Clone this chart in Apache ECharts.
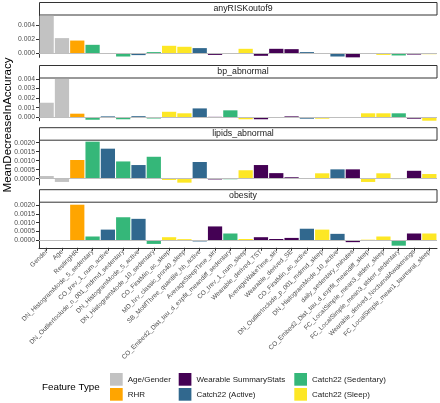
<!DOCTYPE html>
<html>
<head>
<meta charset="utf-8">
<script src="https://cdn.jsdelivr.net/npm/echarts@6/dist/echarts.min.js"></script>
<style>
html,body{margin:0;padding:0;background:#fff;}
#c{width:440px;height:403px;}
</style>
</head>
<body>
<div id="c"></div>
<script>
const categories = ['Gender','Age','RestingHR','DN_HistogramMode_5_sedentary','CO_trev_1_num_active','DN_OutlierInclude_n_001_mdrmd_sedentary','DN_HistogramMode_5_active','DN_HistogramMode_10_sedentary','CO_FirstMin_ac_sleep','MD_hrv_classic_pnn40_sleep','SB_MotifThree_quantile_hh_active','AverageSleepTime_sin','CO_Embed2_Dist_tau_d_expfit_meandiff_sedentary','CO_trev_1_num_sleep','Wearable_derived_TST','AverageWakeTime_sin','Wearable_derived_SE','CO_FirstMin_ac_active','DN_OutlierInclude_p_001_mdrmd_sleep','DN_HistogramMode_10_active','daily_sedentary_minutes','CO_Embed2_Dist_tau_d_expfit_meandiff_sleep','FC_LocalSimple_mean3_stderr_sleep','FC_LocalSimple_mean3_stderr_sedentary','Wearable_derived_NocturnalAwakenings','FC_LocalSimple_mean1_tauresrat_sleep'];

const featureTypes = ['Age/Gender','RHR','Wearable SummaryStats','Catch22 (Active)','Catch22 (Sedentary)','Catch22 (Sleep)'];
const typeColors = ['#C2C2C2','#FFA500','#440154','#31688E','#35B779','#FDE725'];

const categoryTypes = ['Age/Gender','Age/Gender','RHR','Catch22 (Sedentary)','Catch22 (Active)','Catch22 (Sedentary)','Catch22 (Active)','Catch22 (Sedentary)','Catch22 (Sleep)','Catch22 (Sleep)','Catch22 (Active)','Wearable SummaryStats','Catch22 (Sedentary)','Catch22 (Sleep)','Wearable SummaryStats','Wearable SummaryStats','Wearable SummaryStats','Catch22 (Active)','Catch22 (Sleep)','Catch22 (Active)','Wearable SummaryStats','Catch22 (Sleep)','Catch22 (Sleep)','Catch22 (Sedentary)','Wearable SummaryStats','Catch22 (Sleep)'];

const panelNames = ['anyRISKoutof9','bp_abnormal','lipids_abnormal','obesity'];

const anyRISKoutof9 = [0.00539,0.00220,0.00185,0.00124,0.00003,-0.00043,-0.00023,0.00020,0.00110,0.00096,0.00077,-0.00020,0.00002,0.00067,-0.00033,0.00067,0.00062,0.00020,-0.00005,-0.00043,-0.00057,0.00001,-0.00020,-0.00028,-0.00015,-0.00010];
const bp_abnormal = [0.00152,0.00400,0.00038,-0.00025,0.00010,-0.00020,0.00012,-0.00012,0.00058,0.00042,0.00093,0.00005,0.00073,-0.00020,-0.00020,-0.00007,0.00010,-0.00014,-0.00014,0.00001,0.00001,0.00042,0.00042,0.00042,-0.00014,-0.00035];
const lipids_abnormal = [0.00015,-0.00018,0.00104,0.00206,0.00167,0.00096,0.00076,0.00122,-0.00007,-0.00022,0.00093,-0.00004,-0.00003,0.00047,0.00076,0.00031,0.00008,0.00002,0.00030,0.00052,0.00052,-0.00018,0.00030,-0.00002,0.00044,0.00026];
const obesity = [0,0,0.00202,0.00022,0.00061,0.00131,0.00122,-0.00020,0.00018,0.00007,-0.00006,0.00079,0.00039,0.00008,0.00018,0.00008,0.00014,0.00066,0.00061,0.00037,-0.00010,0.00004,0.00022,-0.00030,0.00039,0.00039];

const yTicks1 = [0, 0.002, 0.004];
const yTicks2 = [0, 0.001, 0.002, 0.003, 0.004];
const yTicks3 = [0, 0.0005, 0.0010, 0.0015, 0.0020];
const yTicks4 = [0, 0.0005, 0.0010, 0.0015, 0.0020];

const panelValues = [anyRISKoutof9, bp_abnormal, lipids_abnormal, obesity];
const panelTicks = [yTicks1, yTicks2, yTicks3, yTicks4];
const panelDecimals = [3, 3, 4, 4];

// layout
const plotLeft = 39, plotRight = 437;
const gridTops = [15, 77, 139.5, 201];
const gridHeights = [42.35, 43.7, 45.5, 46.8];
const yMins = [-0.00055, -0.00035, -0.00035, -0.00042];
const yMaxs = [0.0055, 0.0042, 0.00218, 0.00223];
const stripTops = [2, 65, 127.2, 189.2];
const stripH = 12.5;

const grids = [], xAxes = [], yAxes = [], series = [], graphics = [];
for (let p = 0; p < 4; p++) {
  grids.push({left: plotLeft, top: gridTops[p], width: plotRight - plotLeft, height: gridHeights[p]});
  const last = p === 3;
  xAxes.push({
    type: 'category', gridIndex: p, data: categories, boundaryGap: true,
    axisLine: {show: last, onZero: false, lineStyle: {color: '#333', width: 1}},
    axisTick: {show: last, alignWithLabel: true, length: 3, lineStyle: {color: '#333'}},
    axisLabel: {show: last, rotate: 45, interval: 0, fontSize: 6.5, color: '#4D4D4D', margin: 3, fontFamily: 'Liberation Sans, Arial, sans-serif'},
    splitLine: {show: false}
  });
  const dec = panelDecimals[p];
  yAxes.push({
    type: 'value', gridIndex: p, min: yMins[p], max: yMaxs[p],
    axisLine: {show: true, lineStyle: {color: '#333', width: 1}},
    axisTick: {show: true, length: 3, lineStyle: {color: '#333'}, customValues: panelTicks[p]},
    axisLabel: {fontSize: 6.8, color: '#4D4D4D', margin: 4, customValues: panelTicks[p],
      fontFamily: 'Liberation Sans, Arial, sans-serif',
      formatter: v => Number(v).toFixed(dec)},
    splitLine: {show: false}
  });
  featureTypes.forEach((t, ti) => {
    const s = {
      type: 'bar', name: t, xAxisIndex: p, yAxisIndex: p,
      data: panelValues[p].map((v, i) => categoryTypes[i] === t ? v : null),
      itemStyle: {color: typeColors[ti]},
      barGap: '-100%', barCategoryGap: '7%',
      silent: true, animation: false
    };
    if (ti === 0) {
      s.markLine = {silent: true, symbol: 'none', label: {show: false},
        lineStyle: {color: '#BEBEBE', width: 1, type: 'solid'},
        data: [{yAxis: 0}], animation: false};
    }
    series.push(s);
  });
  graphics.push({
    type: 'rect', silent: true,
    shape: {x: plotLeft + 0.5, y: stripTops[p] + 0.5, width: plotRight - plotLeft - 0.5, height: stripH},
    style: {fill: '#fff', stroke: '#333', lineWidth: 1}
  });
  graphics.push({
    type: 'text', silent: true, x: 243, y: stripTops[p] + 0.5 + stripH / 2,
    style: {text: panelNames[p], fill: '#1A1A1A', fontSize: 8.8, align: 'center', verticalAlign: 'middle',
      fontFamily: 'Liberation Sans, Arial, sans-serif'}
  });
}
graphics.push({
  type: 'text', silent: true, x: 7.5, y: 125, rotation: Math.PI / 2,
  style: {text: 'MeanDecreaseInAccuracy', fill: '#000', fontSize: 11.5, align: 'center', verticalAlign: 'middle',
    fontFamily: 'Liberation Sans, Arial, sans-serif'}
});
graphics.push({
  type: 'text', silent: true, x: 42, y: 387.5,
  style: {text: 'Feature Type', fill: '#000', fontSize: 9.8, align: 'left', verticalAlign: 'middle',
    fontFamily: 'Liberation Sans, Arial, sans-serif'}
});

const legendCols = [[featureTypes[0], featureTypes[1]], [featureTypes[2], featureTypes[3]], [featureTypes[4], featureTypes[5]]];
const legendLefts = [110, 178.7, 294.3];
const legends = legendCols.map((d, i) => ({
  data: d.map(n => ({name: n, icon: 'rect'})), orient: 'vertical', left: legendLefts[i], top: 373,
  itemWidth: 12.7, itemHeight: 12.7, itemGap: 2.3, padding: 0, selectedMode: false,
  textStyle: {fontSize: 8, color: '#1A1A1A', fontFamily: 'Liberation Sans, Arial, sans-serif', padding: [0, 0, 0, 0]}
}));

const chart = echarts.init(document.getElementById('c'), null, {renderer: 'canvas'});
chart.setOption({
  animation: false,
  backgroundColor: '#fff',
  grid: grids, xAxis: xAxes, yAxis: yAxes, series: series,
  legend: legends,
  graphic: graphics
});
</script>
</body>
</html>
